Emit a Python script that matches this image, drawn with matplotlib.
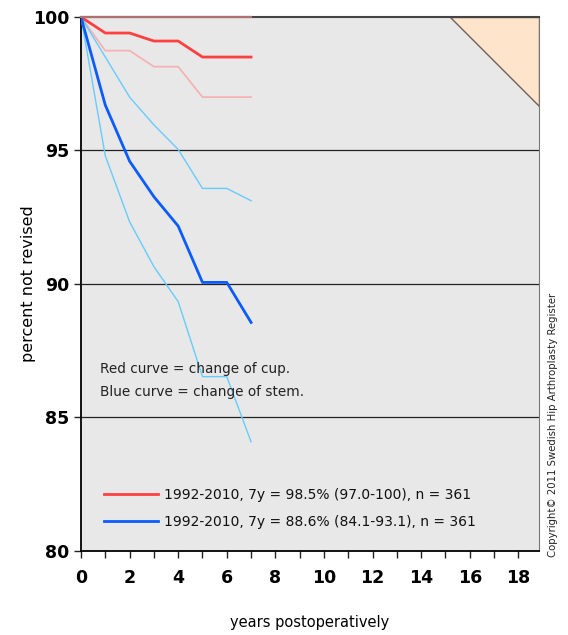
import matplotlib
matplotlib.use("Agg")
import matplotlib.pyplot as plt
from matplotlib.patches import Polygon

years = [0, 1, 2, 3, 4, 5, 6, 7]
cup = [100, 99.4, 99.4, 99.1, 99.1, 98.5, 98.5, 98.5]
cup_lo = [100, 98.74, 98.74, 98.14, 98.14, 97.0, 97.0, 97.0]
cup_hi = [100, 100, 100, 100, 100, 100, 100, 100]
stem = [100, 96.7, 94.6, 93.27, 92.17, 90.06, 90.06, 88.56]
stem_lo = [100, 94.8, 92.33, 90.65, 89.34, 86.53, 86.53, 84.09]
stem_hi = [100, 98.5, 97.0, 95.96, 95.04, 93.58, 93.58, 93.12]

legend_labels = ["1992-2010, 7y = 98.5% (97.0-100), n = 361",
                 "1992-2010, 7y = 88.6% (84.1-93.1), n = 361"]
xticks = [0, 2, 4, 6, 8, 10, 12, 14, 16, 18]
yticks = [80, 85, 90, 95, 100]
xmax = 18.85
tri_start = 15.2
tri_end_y = 96.67

FONT = dict(family="DejaVu Sans")

fig = plt.figure(figsize=(5.68, 6.35), dpi=100)
ax = fig.add_axes([81/568, 1-551/635, (539-81)/568, (551-17)/635])
ax.set_facecolor("#e8e8e8")
ax.set_xlim(0, xmax)
ax.set_ylim(80, 100)

for yv in [85, 90, 95]:
    ax.axhline(yv, color="#222222", lw=0.9, zorder=1)

tri = Polygon([[tri_start, 100], [xmax, 100], [xmax, tri_end_y]], closed=True,
              facecolor="#ffe4cc", edgecolor="#6e625a", lw=1.0, zorder=2)
ax.add_patch(tri)

ax.plot(years, cup_hi, color="#b07070", lw=1.6, zorder=5, clip_on=False)
ax.plot(years, cup_lo, color="#f7b0b0", lw=1.2, zorder=3)
ax.plot(years, stem_hi, color="#66ccff", lw=1.0, zorder=3)
ax.plot(years, stem_lo, color="#66ccff", lw=1.0, zorder=3)
l1, = ax.plot(years, cup, color="#ff4040", lw=2.0, zorder=4)
l2, = ax.plot(years, stem, color="#0a5cff", lw=2.0, zorder=4)

leg = ax.legend([l1, l2], legend_labels, loc="lower left", bbox_to_anchor=(0.022, 0.018),
                frameon=False, handlelength=3.9, handletextpad=0.45, labelspacing=0.95,
                prop=dict(size=10.0, **FONT))
for t in leg.get_texts():
    t.set_color("#111111")

ax.text(0.8, 86.65, "Red curve = change of cup.", fontsize=9.8, color="#222222", **FONT)
ax.text(0.8, 85.8, "Blue curve = change of stem.", fontsize=9.8, color="#222222", **FONT)

ax.set_xticks(xticks)
ax.set_xticks([1, 3, 5, 7, 9, 11, 13, 15, 17], minor=True)
ax.set_yticks(yticks)
ax.tick_params(axis="both", which="both", direction="out", length=5, width=1, color="#222222")
ax.tick_params(axis="x", pad=8)
for lab in ax.get_xticklabels() + ax.get_yticklabels():
    lab.set_fontsize(12.5)
    lab.set_fontweight("bold")
    lab.set_family("DejaVu Sans")

ax.spines["left"].set_color("black")
ax.spines["bottom"].set_color("black")
ax.spines["left"].set_linewidth(1.3)
ax.spines["bottom"].set_linewidth(1.3)
ax.spines["top"].set_color("#444444")
ax.spines["top"].set_linewidth(1.5)
ax.spines["right"].set_color("#777777")

ax.set_ylabel("percent not revised", fontsize=11.5, labelpad=-2, **FONT)
ax.set_xlabel("years postoperatively", fontsize=10.5, labelpad=20, **FONT)

fig.text(553/568, 1-425/635, "Copyright\u00a9 2011 Swedish Hip Arthroplasty Register",
         rotation=90, ha="center", va="center", fontsize=7.3, color="#222222", **FONT)

fig.savefig("out.png", dpi=100, facecolor="white")
